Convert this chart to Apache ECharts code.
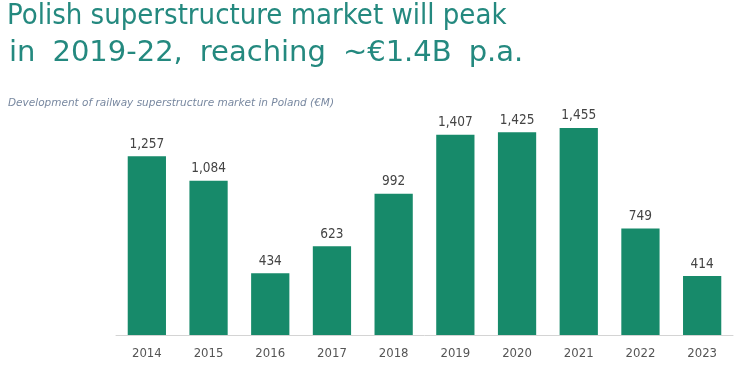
<!DOCTYPE html>
<html><head><meta charset="utf-8">
<script src="https://cdn.jsdelivr.net/npm/echarts@6/dist/echarts.min.js"></script>
<style>html,body{margin:0;padding:0;background:#fff}#c{width:756px;height:367px}</style>
</head><body><div id="c"></div>
<script>
const years = ['2014','2015','2016','2017','2018','2019','2020','2021','2022','2023'];
const marketValues = [1257, 1084, 434, 623, 992, 1407, 1425, 1455, 749, 414];
const titleLine1 = 'Polish superstructure market will peak';
const titleLine2Words = ['in', '2019-22,', 'reaching', '~€1.4B', 'p.a.'];
const subtitleText = 'Development of railway superstructure market in Poland (€M)';

const titleColor = '#24897f';

// second title line as rich text: words separated by slightly widened spaces
const line2Rich = titleLine2Words.map(w => '{w|' + w + '}').join('{g| }');

const graphics = [{
  type: 'text', left: 7, top: 2,
  style: {text: titleLine1, font: '29px "DejaVu Sans Condensed"', fill: titleColor}
}, {
  type: 'text', x: 9, y: 53,
  style: {
    text: line2Rich, verticalAlign: 'middle', align: 'left',
    rich: {
      w: {font: '29px "DejaVu Sans"', fill: titleColor},
      g: {font: '29px "DejaVu Sans"', fill: titleColor, width: 17}
    }
  }
}, {
  type: 'text', x: 8, y: 103,
  style: {text: subtitleText, font: 'italic 10.5px "DejaVu Sans"', fill: '#7888a0', verticalAlign: 'middle'}
}];

const chart = echarts.init(document.getElementById('c'));
chart.setOption({
  animation: false,
  backgroundColor: '#fff',
  graphic: graphics,
  grid: {left: 116, right: 23, top: 50.4, bottom: 32},
  xAxis: {
    type: 'category', data: years,
    axisLine: {lineStyle: {color: '#d4d4d4', width: 1}},
    axisTick: {show: false},
    axisLabel: {color: '#555', fontFamily: 'DejaVu Sans Condensed', fontSize: 13, margin: 12}
  },
  yAxis: {type: 'value', min: 0, max: 2000, show: false, splitLine: {show: false}},
  series: [{
    type: 'bar', data: marketValues, barWidth: '62%',
    itemStyle: {color: '#178a6a'},
    label: {show: true, position: 'top', distance: 5, color: '#444', fontFamily: 'DejaVu Sans Condensed', fontSize: 13.5,
      formatter: p => p.value.toLocaleString('en-US')}
  }]
});
</script></body></html>
